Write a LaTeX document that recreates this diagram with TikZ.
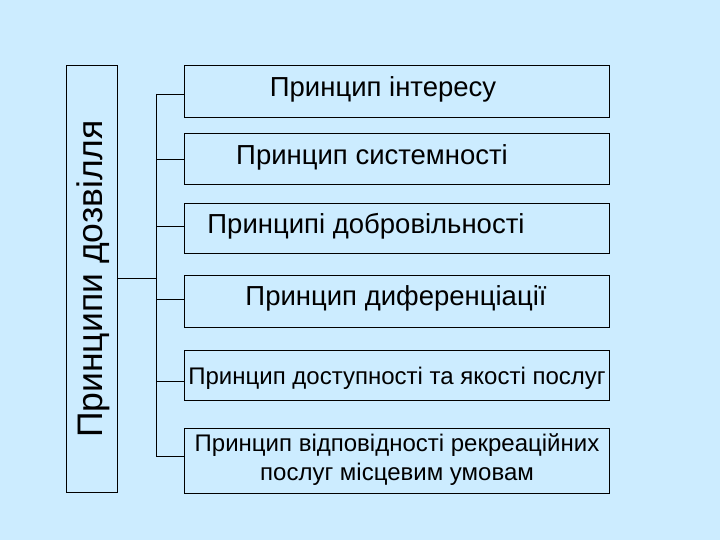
\documentclass[tikz,border=0pt]{standalone}
\usepackage{fontspec}
\setmainfont{Liberation Sans}
\begin{document}
\begin{tikzpicture}[x=1pt,y=-1pt,line width=0.9pt,
 bx/.style={draw=black,fill=none},
 lbl/.style={font=\fontsize{27.5}{32}\selectfont,align=center,inner sep=0pt},
 ln/.style={draw=black}]
\fill[color={rgb,255:red,204;green,236;blue,255}] (0,0) rectangle (720,540);
\useasboundingbox (0,0) rectangle (720,540);
\draw[bx] (66,65) rectangle (117,492);
\node[rotate=90,font=\fontsize{35.5}{40}\selectfont] (L) at (93,279) {Принципи дозвілля};
\coordinate (Lr) at (117,278);
\coordinate (T) at (156,278);
\foreach \i/\a/\b/\c in {1/65/117/94,2/133/184/159,3/203/253/226,4/275/327/299,5/350/400/381,6/428/493/456}{
 \draw[bx] (184,\a) rectangle (609,\b);
 \coordinate (c\i) at (184,\c);
 \coordinate (v\i) at (156,\c);
 \draw[ln] (v\i) -- (c\i);
}
\draw[ln] (v1) -- (v6);
\draw[ln] (Lr) -- (T);
\node[lbl] (t1) at (383,89) {Принцип інтересу};
\node[lbl] (t2) at (372,157) {Принцип системності};
\node[lbl] (t3) at (366,226) {Принципі добровільності};
\node[lbl] (t4) at (396,298) {Принцип диференціації};
\node[lbl,font=\fontsize{24}{28}\selectfont] (t5) at (397,378) {Принцип доступності та якості послуг};
\node[lbl,font=\fontsize{24}{29}\selectfont] (t6) at (397,460) {Принцип відповідності рекреаційних\\послуг місцевим умовам};
\end{tikzpicture}
\end{document}
